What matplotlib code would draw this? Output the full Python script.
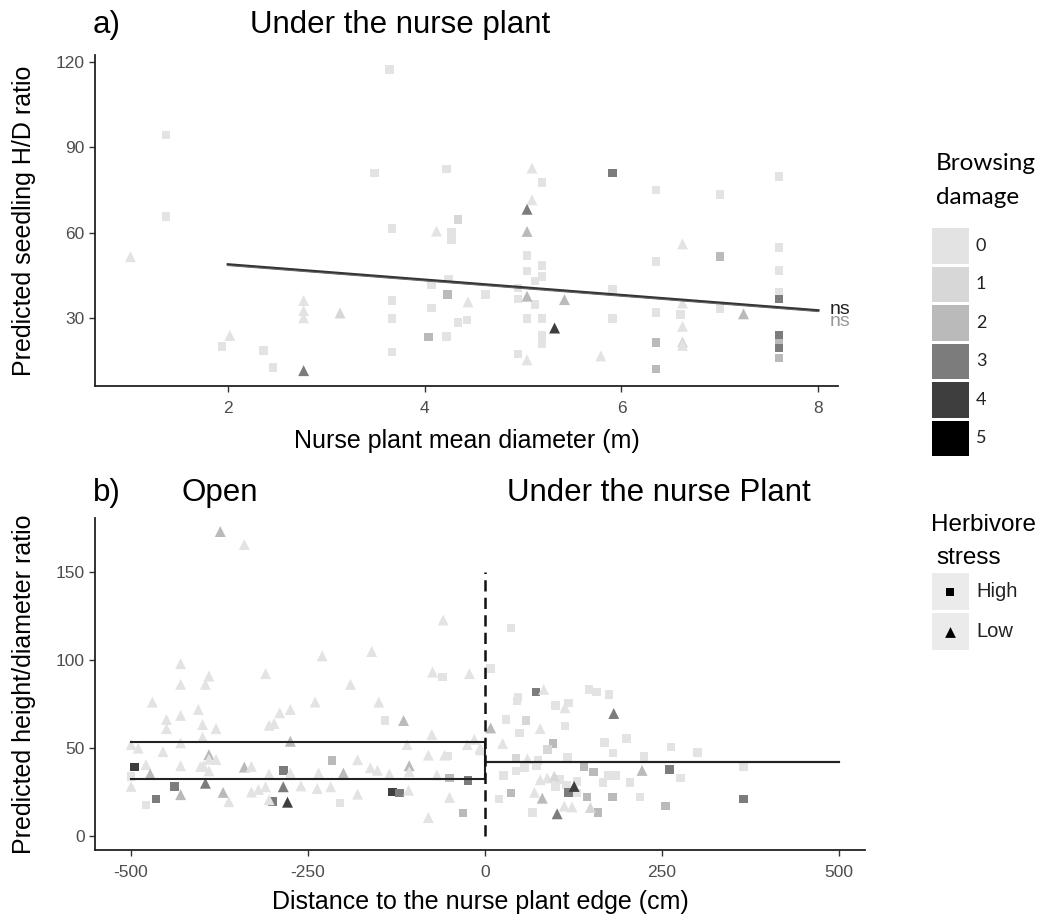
import matplotlib
matplotlib.use("Agg")
import matplotlib.pyplot as plt
from matplotlib.patches import Rectangle

plt.rcParams['font.family'] = ['Liberation Sans', 'DejaVu Sans']
plt.rcParams['axes.unicode_minus'] = False

# ---------------- data ----------------
damage_levels = [0, 1, 2, 3, 4, 5]
damage_colors = ['#e3e3e3', '#d7d7d7', '#bababa', '#7c7c7c', '#3e3e3e', '#000000']
stress_labels = ['High', 'Low']
stress_markers = {'H': 's', 'L': '^'}

# Panel a: nurse plant mean diameter (m), predicted H/D, browsing damage, stress
a_x = [3.64, 1.37, 1.37, 1.01, 3.49, 4.22, 4.34, 3.67, 4.12, 4.27, 4.27, 2.77, 2.77, 2.77, 3.14,
       3.67, 3.67, 3.67, 2.02, 1.94, 2.36, 2.46, 2.77, 4.07, 4.24, 4.23, 4.07, 4.34, 4.43, 4.04,
       4.22, 4.44, 5.09, 5.19, 5.91, 6.35, 7.00, 7.60, 5.09, 5.04, 5.04, 5.04, 5.04, 5.19, 5.19,
       5.12, 4.95, 4.95, 5.04, 5.12, 5.04, 5.19, 5.19, 5.19, 4.95, 5.04, 5.32, 5.42, 4.62, 5.79,
       5.91, 5.91, 6.35, 6.35, 6.35, 6.35, 6.62, 6.62, 6.60, 6.62, 6.62, 6.62, 7.00, 7.00, 7.24,
       7.60, 7.60, 7.60, 7.60, 7.60, 7.60, 7.60, 7.60]
a_y = [117.4, 94.4, 65.6, 51.5, 80.9, 82.3, 64.7, 61.5, 60.5, 60.0, 57.5, 36.1, 32.5, 30.0, 31.7,
       36.1, 29.8, 17.9, 23.8, 20.0, 18.4, 12.5, 11.4, 41.6, 43.7, 38.2, 33.5, 28.4, 29.3, 23.2,
       23.4, 35.6, 82.7, 77.6, 80.9, 75.0, 73.4, 79.7, 71.5, 68.2, 60.4, 52.0, 46.4, 48.4, 44.6,
       42.9, 40.5, 36.6, 37.6, 34.6, 29.8, 29.8, 23.7, 20.8, 17.3, 15.2, 26.4, 36.4, 38.2, 16.6,
       39.9, 29.8, 49.8, 31.9, 21.3, 12.0, 56.0, 35.2, 31.1, 27.0, 21.5, 20.3, 51.5, 33.2, 31.4,
       54.7, 46.6, 39.0, 36.6, 23.7, 21.1, 19.4, 15.8]
a_dmg = [0, 0, 0, 0, 0, 0, 1, 0, 0, 0, 0, 0, 0, 0, 1,
         0, 0, 0, 0, 0, 0, 0, 3, 0, 0, 2, 0, 0, 0, 2,
         0, 0, 0, 0, 3, 0, 0, 0, 0, 3, 2, 0, 0, 0, 0,
         0, 0, 0, 2, 0, 0, 0, 0, 0, 0, 0, 4, 2, 0, 0,
         0, 0, 0, 0, 2, 2, 0, 0, 0, 0, 1, 0, 2, 0, 2,
         0, 0, 0, 3, 3, 2, 3, 2]
a_stress = ['H', 'H', 'H', 'L', 'H', 'H', 'H', 'H', 'L', 'H', 'H', 'L', 'L', 'L', 'L',
            'H', 'H', 'H', 'L', 'H', 'H', 'H', 'L', 'H', 'H', 'H', 'H', 'H', 'H', 'H',
            'H', 'L', 'L', 'H', 'H', 'H', 'H', 'H', 'L', 'L', 'L', 'H', 'H', 'H', 'H',
            'H', 'H', 'H', 'L', 'H', 'H', 'H', 'H', 'H', 'H', 'L', 'L', 'L', 'H', 'L',
            'H', 'H', 'H', 'H', 'H', 'H', 'L', 'L', 'H', 'L', 'L', 'L', 'H', 'H', 'L',
            'H', 'H', 'H', 'H', 'H', 'H', 'H', 'H']
a_fit_x = [2, 8]
a_fit_y = [48.8, 32.6]

# Panel b: distance to nurse plant edge (cm), predicted H/D, browsing damage, stress
b_x = [-374, -340, -59, -430, -230, -160, -430, -390, -395, -310, -74, -60, -22, -190, -470,
       -240, -150, -405, -275, -290, -430, -450, -450, -399, -380, -305, -298, -141, -115, -399,
       -500, -490, -430, -455, -275, -75, -110, -25, -15, -6, -390, -390, -380, -80, -57,
       -52, -479, -495, -500, -430, -402, -398, -390, -340, -330, -216, -180, -162, -152, -107,
       -285, -305, -275, -200, -235, -135, -107, -68, -50, -24, -473, -439, -430, -465, -479,
       -395, -370, -362, -330, -320, -310, -285, -279, -300, -305, -260, -237, -218, -205, -180,
       -131, -121, -108, -50, -80, -31, -500, -7,
       37, 8, 72, 83, 47, 45, 147, 158, 175, 182, 100, 118, 113, 30, 58,
       78, 113, 49, 8, 25, 96, 88, 169, 200, 263, 300, 181, 225, 44, 60,
       75, 117, 365, 261, 222, 140, 153, 26, 44, 56, 73, 78, 88, 98, 174,
       185, 276, 205, 167, 105, 115, 130, 100, 37, 70, 81, 20, 118, 126, 130,
       144, 180, 219, 365, 112, 123, 149, 160, 67, 102, 255]
b_y = [173.3, 165.9, 122.9, 98.1, 102.5, 105.0, 86.3, 91.0, 86.3, 92.4, 93.3, 90.5, 92.4, 86.3, 76.2,
       76.2, 76.2, 72.0, 72.0, 70.1, 68.6, 66.3, 61.1, 63.4, 61.1, 63.0, 64.0, 65.7, 65.7, 56.2,
       52.0, 50.0, 53.0, 48.0, 53.9, 57.7, 52.0, 52.0, 55.0, 49.0, 46.3, 43.7, 43.5, 46.0, 46.0,
       45.5, 40.6, 39.2, 33.9, 40.0, 39.5, 40.0, 37.0, 39.2, 39.5, 43.0, 43.4, 38.8, 37.4, 40.0,
       37.3, 35.3, 35.8, 35.8, 35.8, 35.3, 36.6, 34.8, 33.0, 31.6, 35.3, 28.2, 23.5, 21.0, 17.7,
       30.0, 24.8, 19.5, 25.0, 26.5, 28.0, 28.0, 19.2, 19.6, 20.6, 28.5, 27.0, 28.0, 18.7, 23.8,
       25.0, 24.5, 26.0, 21.9, 10.5, 13.0, 28.2, 50.0,
       118.5, 95.2, 81.9, 83.4, 78.7, 76.8, 83.4, 81.9, 80.6, 69.7, 74.3, 75.8, 73.0, 66.3, 65.7,
       61.1, 62.5, 58.7, 61.5, 52.6, 52.6, 49.1, 53.3, 55.4, 50.7, 47.6, 47.2, 45.3, 44.0, 44.0,
       43.0, 44.5, 39.6, 37.7, 37.3, 39.2, 36.4, 34.5, 37.0, 39.0, 40.0, 32.0, 33.0, 34.0, 34.5,
       34.5, 33.0, 30.5, 30.5, 32.0, 29.0, 31.0, 28.0, 24.4, 24.8, 21.5, 21.0, 24.8, 28.2, 24.4,
       22.1, 22.1, 22.1, 21.0, 17.0, 16.5, 16.2, 13.3, 13.5, 12.6, 17.1]
b_dmg = [2, 0, 0, 0, 0, 0, 0, 0, 0, 0, 0, 0, 0, 0, 0,
         0, 0, 0, 0, 0, 0, 0, 0, 0, 0, 0, 0, 0, 2, 0,
         0, 0, 0, 0, 2, 0, 0, 0, 0, 0, 2, 0, 0, 0, 0,
         0, 0, 4, 0, 0, 0, 0, 0, 2, 0, 2, 0, 0, 0, 2,
         3, 0, 0, 2, 0, 0, 0, 0, 2, 3, 2, 3, 2, 3, 0,
         3, 2, 0, 0, 0, 0, 3, 4, 3, 0, 0, 0, 0, 0, 0,
         4, 3, 0, 0, 0, 2, 0, 0,
         0, 0, 3, 0, 0, 0, 0, 0, 0, 3, 0, 0, 0, 0, 1,
         0, 0, 0, 2, 0, 2, 1, 0, 0, 0, 0, 0, 0, 1, 0,
         0, 0, 0, 3, 2, 2, 2, 0, 0, 0, 0, 0, 0, 1, 0,
         0, 0, 0, 0, 0, 0, 0, 0, 2, 0, 2, 0, 3, 4, 0,
         2, 2, 0, 3, 0, 0, 1, 2, 0, 3, 2]
b_stress = ['L', 'L', 'L', 'L', 'L', 'L', 'L', 'L', 'L', 'L', 'L', 'H', 'L', 'L', 'L',
            'L', 'L', 'L', 'L', 'L', 'L', 'L', 'L', 'L', 'L', 'L', 'L', 'H', 'L', 'L',
            'L', 'L', 'L', 'L', 'L', 'L', 'L', 'L', 'L', 'L', 'L', 'L', 'L', 'L', 'L',
            'H', 'L', 'H', 'H', 'L', 'L', 'L', 'L', 'L', 'L', 'H', 'L', 'L', 'L', 'L',
            'H', 'L', 'L', 'L', 'L', 'L', 'L', 'L', 'H', 'H', 'L', 'H', 'L', 'H', 'H',
            'L', 'L', 'L', 'L', 'L', 'L', 'L', 'L', 'H', 'L', 'L', 'L', 'L', 'H', 'L',
            'H', 'H', 'L', 'L', 'L', 'H', 'L', 'L',
            'H', 'H', 'H', 'L', 'H', 'H', 'H', 'H', 'H', 'L', 'H', 'H', 'L', 'H', 'H',
            'L', 'H', 'H', 'L', 'L', 'H', 'H', 'H', 'H', 'H', 'H', 'H', 'H', 'H', 'L',
            'H', 'H', 'H', 'H', 'L', 'H', 'H', 'H', 'H', 'H', 'H', 'L', 'L', 'L', 'H',
            'H', 'H', 'H', 'H', 'H', 'H', 'H', 'H', 'H', 'L', 'L', 'H', 'H', 'L', 'H',
            'H', 'H', 'H', 'H', 'L', 'L', 'L', 'H', 'H', 'L', 'H']
# step predictions (open: high / low stress, under nurse plant: common)
b_fit_x = [-500, 0, 0, 500]
b_fit_high = [53.3, 53.3, 42.1, 42.1]
b_fit_low = [32.4, 32.4, 42.1, 42.1]

# ---------------- figure ----------------
W, H = 1046, 921
fig = plt.figure(figsize=(W / 100, H / 100), dpi=100)
tick_col = '#4d4d4d'
LABEL_FS = 18
TITLE_FS = 22.5


def style(ax):
    for s in ['top', 'right']:
        ax.spines[s].set_visible(False)
    for s in ['left', 'bottom']:
        ax.spines[s].set_linewidth(1.3)
        ax.spines[s].set_color('#222222')
    ax.tick_params(direction='out', length=4, width=1, colors='#333333',
                   labelcolor=tick_col, labelsize=12.5)
    ax.tick_params(axis='x', pad=7)


def scatter(ax, xs, ys, dmg, stress, size_s=38, size_t=62):
    for code, mk in stress_markers.items():
        idx = [i for i, s in enumerate(stress) if s == code]
        ax.scatter([xs[i] for i in idx], [ys[i] for i in idx],
                   c=[damage_colors[dmg[i]] for i in idx], marker=mk,
                   s=size_s if mk == 's' else size_t, linewidths=0, zorder=2)


# Panel a
axa = fig.add_axes([95 / W, 1 - 386 / H, (838 - 95) / W, (386 - 55) / H])
style(axa)
scatter(axa, a_x, a_y, a_dmg, a_stress)
axa.plot(a_fit_x, a_fit_y, color='#333333', lw=1.8, zorder=3)
axa.plot(a_fit_x, [v - 0.4 for v in a_fit_y], color='#666666', lw=0.8, zorder=3)
axa.text(8.12, a_fit_y[1] + 0.5, 'ns', fontsize=14, color='#222222', va='center', ha='left')
axa.text(8.12, a_fit_y[1] - 4.0, 'ns', fontsize=14, color='#999999', va='center', ha='left')
axa.set_xlim(0.65, 8.2)
axa.set_ylim(6, 122.5)
axa.set_xticks([2, 4, 6, 8])
axa.set_yticks([30, 60, 90, 120])
axa.set_xlabel('Nurse plant mean diameter (m)', fontsize=LABEL_FS, labelpad=9)
axa.set_ylabel('Predicted seedling H/D ratio', fontsize=LABEL_FS, labelpad=14)

# Panel b
axb = fig.add_axes([95 / W, 1 - 850 / H, (865 - 95) / W, (850 - 518) / H])
style(axb)
scatter(axb, b_x, b_y, b_dmg, b_stress)
axb.plot(b_fit_x, b_fit_high, color='#222222', lw=1.5, zorder=3)
axb.plot(b_fit_x, b_fit_low, color='#222222', lw=1.5, zorder=3)
axb.plot([0, 0], [0, 150], color='#111111', lw=1.8, ls=(0, (4.5, 2.5)), zorder=3)
axb.set_xlim(-551, 537)
axb.set_ylim(-8, 181)
axb.set_xticks([-500, -250, 0, 250, 500])
axb.set_yticks([0, 50, 100, 150])
axb.set_xlabel('Distance to the nurse plant edge (cm)', fontsize=LABEL_FS, labelpad=7)
axb.set_ylabel('Predicted height/diameter ratio', fontsize=LABEL_FS, labelpad=14)

# Titles
fig.text(93 / W, 1 - 25 / H, 'a)', fontsize=TITLE_FS, va='center', ha='left')
fig.text(400 / W, 1 - 25 / H, 'Under the nurse plant', fontsize=TITLE_FS, va='center', ha='center')
fig.text(93 / W, 1 - 493 / H, 'b)', fontsize=TITLE_FS, va='center', ha='left')
fig.text(220 / W, 1 - 493 / H, 'Open', fontsize=TITLE_FS, va='center', ha='center')
fig.text(659 / W, 1 - 493 / H, 'Under the nurse Plant', fontsize=TITLE_FS, va='center', ha='center')

# Legends (overlay axes in pixel coordinates)
lg = fig.add_axes([0, 0, 1, 1])
lg.set_xlim(0, W)
lg.set_ylim(H, 0)
lg.axis('off')
lg.patch.set_alpha(0)

LEG_FONT = ['Lato', 'DejaVu Sans']
lg.text(936, 163, 'Browsing', fontsize=17.5, family=LEG_FONT, va='center', ha='left')
lg.text(936, 197, 'damage', fontsize=17.5, family=LEG_FONT, va='center', ha='left')
key_top = 228
key_h = 38.5
for i, lev in enumerate(damage_levels):
    y0 = key_top + i * key_h
    lg.add_patch(Rectangle((932, y0), 37, key_h - 3, facecolor=damage_colors[lev],
                           edgecolor='none'))
    lg.text(976, y0 + (key_h - 3) / 2, str(lev), fontsize=13, color='#222222',
            family=LEG_FONT, va='center', ha='left')

lg.text(931, 525, 'Herbivore', fontsize=17.5, va='center', ha='left')
lg.text(936, 558, 'stress', fontsize=17.5, va='center', ha='left')
for i, (lab, mk) in enumerate(zip(stress_labels, ['s', '^'])):
    y0 = 573 + i * 40
    lg.add_patch(Rectangle((932, y0), 37, 37, facecolor='#ebebeb', edgecolor='none'))
    lg.scatter([950], [y0 + 18.5], marker=mk, s=40 if mk == 's' else 60, color='black',
               linewidths=0)
    lg.text(976, y0 + 18.5, lab, fontsize=14.5, color='#222222', va='center', ha='left')

fig.savefig('out.png', dpi=100)
